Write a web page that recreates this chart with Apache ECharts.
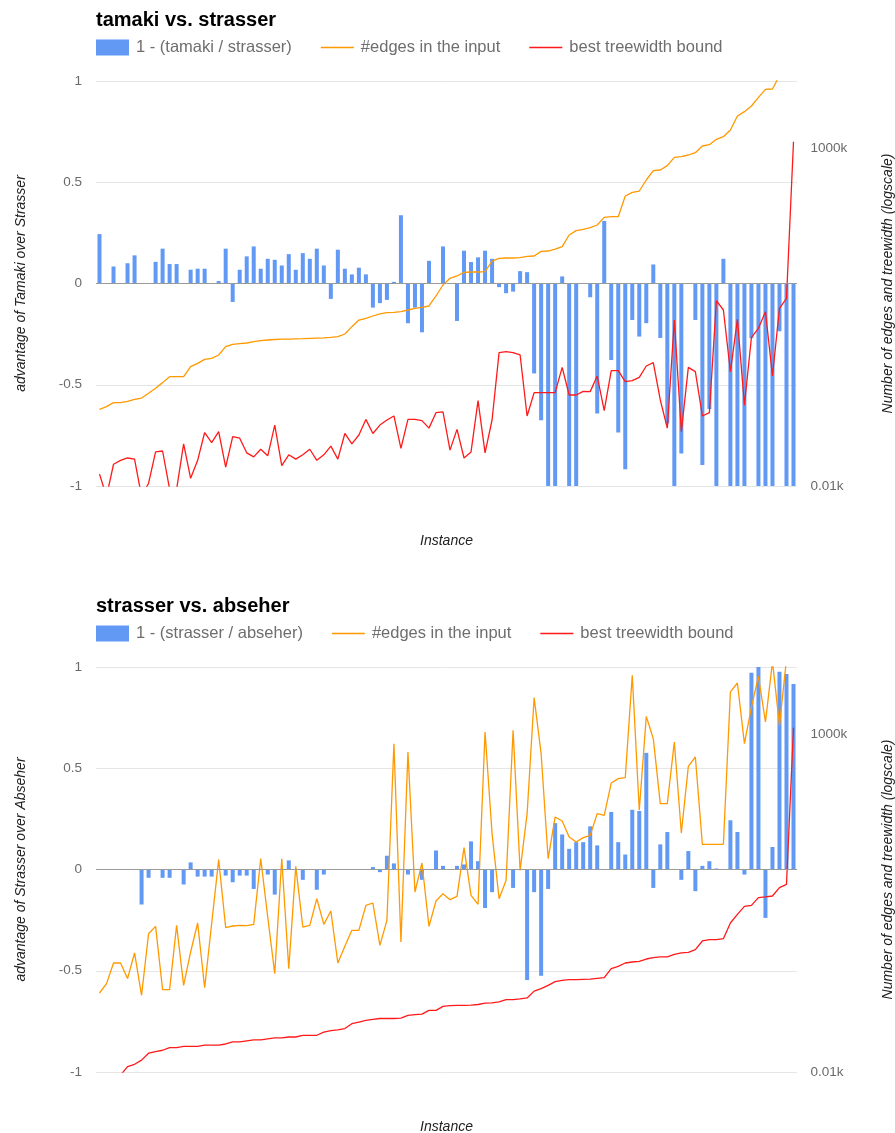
<!DOCTYPE html>
<html><head><meta charset="utf-8">
<script src="https://cdn.jsdelivr.net/npm/echarts@6/dist/echarts.min.js"></script>
<style>html,body{margin:0;padding:0;background:#fff;overflow:hidden;}#c{width:895px;height:1133px;}</style>
</head><body><div id="c"></div>
<script>
// ---- data ----
const instances = Array.from({length: 100}, (_, i) => 'instance ' + (i + 1));

const tsRatio = [0.244,0,0.084,0,0.10,0.139,0,0,0.107,0.172,0.096,0.096,0,0.068,0.073,0.073,0,0.012,0.172,-0.091,
0.068,0.134,0.183,0.073,0.122,0.117,0.089,0.145,0.068,0.15,0.122,0.172,0.089,-0.076,0.167,0.073,0.045,0.078,0.045,-0.119,
-0.097,-0.081,0.008,0.337,-0.196,-0.119,-0.241,0.112,0,0.183,0,-0.185,0.162,0.106,0.129,0.162,0.122,-0.018,-0.048,-0.04,
0.061,0.056,-0.444,-0.675,-1,-1,0.035,-1,-1,0,-0.068,-0.642,0.309,-0.378,-0.736,-0.917,-0.18,-0.262,-0.196,0.094,
-0.269,-0.691,-1,-0.84,0,-0.18,-0.896,-0.62,-1,0.122,-1,-1,-1,-0.27,-1,-1,-1,-0.236,-1,-1];

const tsEdges = [137,150,172,172,180,192,201,236,280,340,417,417,417,586,657,753,779,872,1158,1255,
1284,1314,1375,1423,1456,1480,1500,1500,1512,1525,1540,1555,1570,1590,1630,1786,2293,2877,3047,3300,
3535,3700,3740,3828,4050,4287,4435,4643,6530,9500,11930,12920,14640,14800,14800,14970,21520,23580,23860,23860,
24150,25250,25550,29940,30280,32430,35160,52360,60700,63460,67150,73550,95500,97700,97700,197700,224200,234500,341500,469700,
480000,557000,739000,757000,801000,867000,1089000,1140000,1368000,1497000,1880000,3030000,3513000,4266000,5733000,7530000,7610000,12000000,15000000,18000000];

const tsTreewidth = [15,7,21,24,26,25,7,11,32,33,9,9,42,13,24,62,44,64,19,54,
51,31,27,35,28,80,20,29,25,29,35,24,29,39,25,60,42,57,97,60,
80,95,109,36,97,97,93,72,122,125,34,69,26,32,184,31,95,944,977,944,
873,109,242,242,242,242,573,223,223,252,250,426,131,511,511,352,364,407,600,672,
188,72,2877,64,573,494,109,122,5570,4050,494,2943,158,1592,2168,3828,426,4287,6030,1262000];

const saRatio = [0,0,0,0,0,0,-0.173,-0.041,0,-0.041,-0.041,0,-0.074,0.035,-0.035,-0.035,-0.035,0,-0.03,-0.063,
-0.03,-0.03,-0.096,0,-0.025,-0.124,0,0.045,0,-0.051,0,-0.1,-0.025,0,0,0,0,0,0,0.012,
-0.013,0.068,0.03,0,-0.025,0,-0.051,0,0.094,0.018,0,0.018,0.025,0.139,0.041,-0.19,-0.112,0,0,-0.091,
0,-0.546,-0.112,-0.525,-0.096,0.229,0.173,0.102,0.135,0.135,0.213,0.119,0,0.284,0.135,0.074,0.295,0.289,0.576,-0.091,
0.124,0.185,0,-0.051,0.091,-0.107,0.018,0.041,0.005,0,0.243,0.185,-0.025,0.972,1.0,-0.239,0.111,0.977,0.965,0.916];

const saEdges = [148,204,412,412,242,580,137,1120,1438,166,166,1489,192,600,1611,177,1577,14000,1374,1455,
1489,1470,1541,14460,1977,286,14460,340,11140,1406,1489,3700,1541,2427,412,728,1256,1256,2945,3190,
753,1766,731000,844,550000,4643,12480,1438,3414,4385,3573,4000,21040,4140,3047,1089000,33960,3700,6920,1153000,
9730,67150,3513000,520000,14460,60000,52360,30280,25530,29640,32080,67150,63460,191000,221700,229300,7530000,75300,1857000,867000,
94400,94400,774000,34750,337000,464000,23600,23600,23600,23600,4266000,5795000,731000,2553000,7280000,1531000,12000000,1368000,13000000,15000000];

const saTreewidth = [5,6,8,9,12,13,15,19,20,21,23,23,24,24,24,25,25,25,26,28,
28,29,30,30,31,32,32,33,33,35,35,35,39,41,42,44,52,55,58,60,
62,62,62,63,69,71,72,82,82,94,96,97,97,98,100,105,106,109,118,118,
121,125,158,172,192,218,228,233,233,236,238,244,250,340,368,412,426,436,472,494,
506,506,554,580,593,649,873,913,913,944,1611,2166,2845,2945,3828,3917,4050,5380,6030,1262000];

const logTickLabels = {10: '0.01k', 1000000: '1000k'};

// ---- styling ----
const FONT = '"Liberation Sans", Arial, Helvetica, sans-serif';
const BLUE = '#6199f5', ORANGE = '#ff9900', RED = '#ff1a1a';
const OFF = 586;
const LINE_ICON = 'path://M0,0L33,0L33,1.4L0,1.4Z';

function grid(top){ return {left: 96, top: top, width: 701, height: 405, containLabel: false, outerBoundsMode: 'none'}; }

function xAxis(gi){
  return {type: 'category', gridIndex: gi, data: instances, boundaryGap: true,
    name: 'Instance', nameLocation: 'middle', nameGap: 48,
    nameTextStyle: {fontFamily: FONT, fontStyle: 'italic', fontSize: 14, color: '#222'},
    axisLine: {show: false}, axisTick: {show: false}, axisLabel: {show: false}, splitLine: {show: false}};
}
function leftAxis(gi, name){
  return {type: 'value', gridIndex: gi, min: -1, max: 1, interval: 0.5, position: 'left',
    name: name, nameLocation: 'middle', nameRotate: 90, nameGap: 68,
    nameTextStyle: {fontFamily: FONT, fontStyle: 'italic', fontSize: 14, color: '#222'},
    axisLine: {show: false}, axisTick: {show: false},
    axisLabel: {margin: 14, fontFamily: FONT, fontSize: 13.5, color: '#6a6a6a'},
    splitLine: {lineStyle: {color: '#e6e6e6', width: 1}}};
}
function rightAxis(gi){
  return {type: 'log', logBase: 10, gridIndex: gi, min: 10, max: 10000000, position: 'right',
    name: 'Number of edges and treewidth (logscale)', nameLocation: 'middle', nameRotate: 90, nameGap: 84,
    nameTextStyle: {fontFamily: FONT, fontStyle: 'italic', fontSize: 14, color: '#222'},
    axisLine: {show: false}, axisTick: {show: false}, splitLine: {show: false},
    axisLabel: {margin: 13.5, fontFamily: FONT, fontSize: 13.5, color: '#6a6a6a',
      formatter: v => logTickLabels[Math.round(v)] || ''}};
}
function legend(top, barName){
  return {top: top, left: 96, padding: 0, itemGap: 29, itemWidth: 33, itemHeight: 16,
    textStyle: {fontFamily: FONT, fontSize: 16.5, color: '#6e6e6e', padding: [0, 0, 0, 2]},
    data: [{name: barName, icon: 'rect'},
           {name: '#edges in the input', icon: LINE_ICON},
           {name: 'best treewidth bound', icon: LINE_ICON}]};
}
function title(top, text){
  return {text: text, left: 96, top: top, padding: 0,
    textStyle: {fontFamily: FONT, fontSize: 20, fontWeight: 'bold', color: '#000'}};
}
function seriesFor(gi, barName, ratio, edges, tw){
  return [
    {name: barName, type: 'bar', xAxisIndex: gi, yAxisIndex: gi * 2, data: ratio, barWidth: 4,
      itemStyle: {color: BLUE}, z: 2,
      markLine: {silent: true, symbol: 'none', label: {show: false},
        lineStyle: {color: '#9a9a9a', width: 1, type: 'solid'}, data: [{yAxis: 0}]}},
    {name: '#edges in the input', type: 'line', xAxisIndex: gi, yAxisIndex: gi * 2 + 1, data: edges,
      symbol: 'none', lineStyle: {color: ORANGE, width: 1.3}, itemStyle: {color: ORANGE}, z: 3},
    {name: 'best treewidth bound', type: 'line', xAxisIndex: gi, yAxisIndex: gi * 2 + 1, data: tw,
      symbol: 'none', lineStyle: {color: RED, width: 1.3}, itemStyle: {color: RED}, z: 4}
  ];
}

const chart = echarts.init(document.getElementById('c'), null, {renderer: 'canvas'});
chart.setOption({
  animation: false,
  backgroundColor: '#fff',
  title: [title(10, 'tamaki vs. strasser'), title(10 + OFF, 'strasser vs. abseher')],
  legend: [legend(39, '1 - (tamaki / strasser)'), legend(39 + OFF, '1 - (strasser / abseher)')],
  grid: [grid(81), grid(81 + OFF)],
  xAxis: [xAxis(0), xAxis(1)],
  yAxis: [leftAxis(0, 'advantage of Tamaki over Strasser'), rightAxis(0),
          leftAxis(1, 'advantage of Strasser over Abseher'), rightAxis(1)],
  series: [].concat(
    seriesFor(0, '1 - (tamaki / strasser)', tsRatio, tsEdges, tsTreewidth),
    seriesFor(1, '1 - (strasser / abseher)', saRatio, saEdges, saTreewidth))
});
</script></body></html>
